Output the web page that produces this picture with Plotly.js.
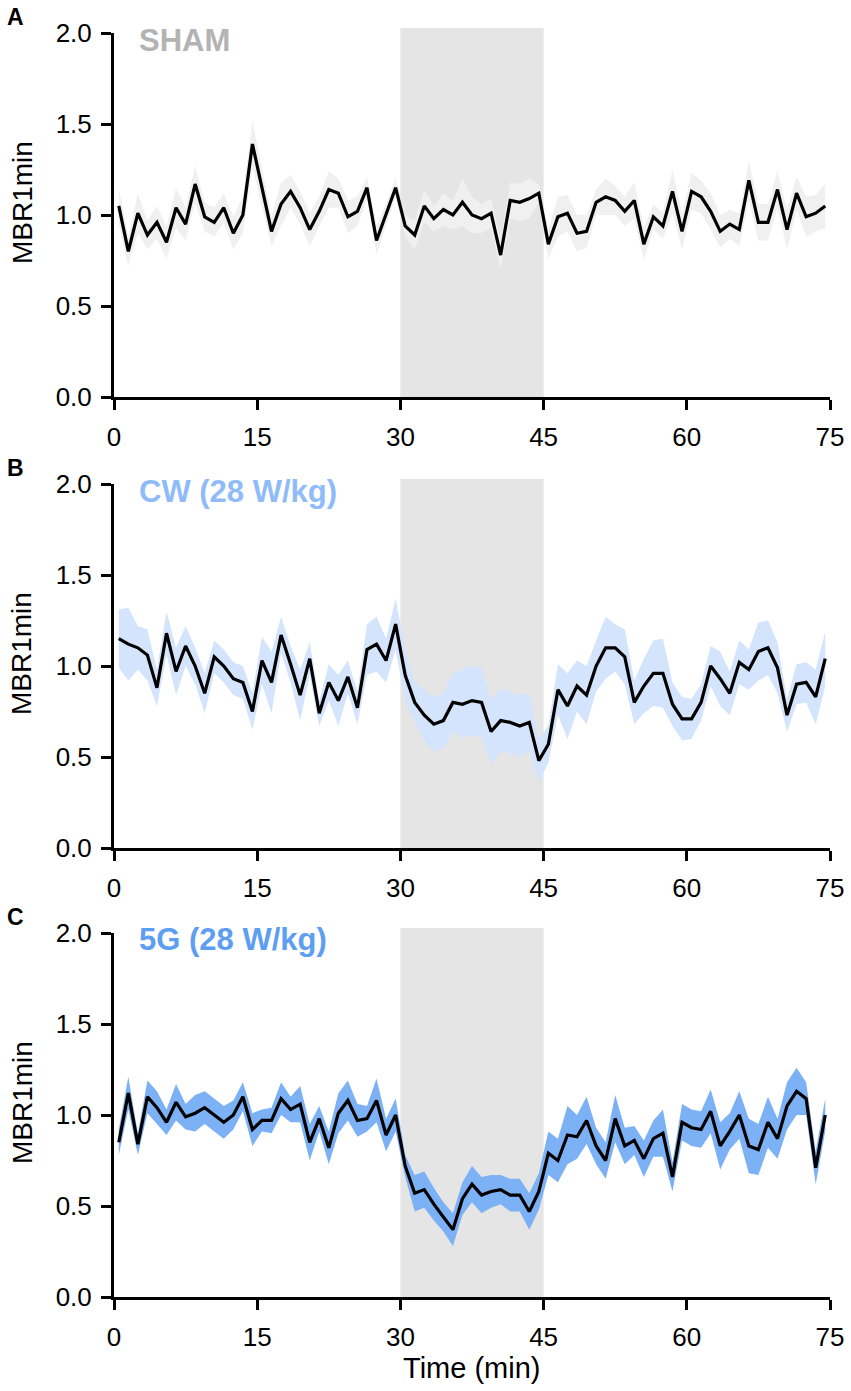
<!DOCTYPE html>
<html>
<head>
<meta charset="utf-8">
<script src="https://cdn.plot.ly/plotly-3.0.1.min.js"></script>
<style>
  html, body { margin: 0; padding: 0; background: #fff; }
  #chart { width: 851px; height: 1391px; }
</style>
</head>
<body>
<div id="chart"></div>
<script>
// time points, one per minute (bin centres)
var minutes = [
    0.5, 1.5, 2.5, 3.5, 4.5, 5.5, 6.5, 7.5, 8.5, 9.5,
    10.5, 11.5, 12.5, 13.5, 14.5, 15.5, 16.5, 17.5, 18.5, 19.5,
    20.5, 21.5, 22.5, 23.5, 24.5, 25.5, 26.5, 27.5, 28.5, 29.5,
    30.5, 31.5, 32.5, 33.5, 34.5, 35.5, 36.5, 37.5, 38.5, 39.5,
    40.5, 41.5, 42.5, 43.5, 44.5, 45.5, 46.5, 47.5, 48.5, 49.5,
    50.5, 51.5, 52.5, 53.5, 54.5, 55.5, 56.5, 57.5, 58.5, 59.5,
    60.5, 61.5, 62.5, 63.5, 64.5, 65.5, 66.5, 67.5, 68.5, 69.5,
    70.5, 71.5, 72.5, 73.5, 74.5
];

var shamMean = [
    1.05, 0.80, 1.01, 0.89, 0.96, 0.85, 1.04, 0.95, 1.17, 0.99,
    0.96, 1.04, 0.90, 1.00, 1.39, 1.15, 0.91, 1.06, 1.13, 1.04,
    0.92, 1.02, 1.14, 1.12, 0.99, 1.02, 1.15, 0.86, 1.00, 1.15,
    0.94, 0.89, 1.05, 0.98, 1.03, 1.00, 1.07, 1.00, 0.98, 1.01,
    0.78, 1.08, 1.07, 1.09, 1.12, 0.84, 0.99, 1.01, 0.90, 0.91,
    1.07, 1.10, 1.08, 1.02, 1.08, 0.84, 0.99, 0.94, 1.13, 0.91,
    1.13, 1.10, 1.02, 0.91, 0.95, 0.92, 1.19, 0.96, 0.96, 1.14,
    0.92, 1.12, 0.99, 1.01, 1.05
];
var shamSem = [
    0.10, 0.08, 0.11, 0.08, 0.09, 0.09, 0.11, 0.09, 0.10, 0.08,
    0.08, 0.08, 0.09, 0.10, 0.13, 0.10, 0.08, 0.12, 0.09, 0.09,
    0.09, 0.08, 0.10, 0.08, 0.09, 0.08, 0.06, 0.08, 0.06, 0.05,
    0.06, 0.08, 0.09, 0.07, 0.09, 0.08, 0.13, 0.10, 0.08, 0.08,
    0.08, 0.10, 0.10, 0.11, 0.05, 0.08, 0.11, 0.10, 0.10, 0.09,
    0.07, 0.10, 0.08, 0.08, 0.10, 0.09, 0.07, 0.07, 0.12, 0.10,
    0.10, 0.09, 0.10, 0.09, 0.08, 0.09, 0.11, 0.10, 0.10, 0.10,
    0.11, 0.09, 0.11, 0.10, 0.12
];

var cwMean = [
    1.15, 1.12, 1.10, 1.06, 0.88, 1.18, 0.97, 1.11, 1.00, 0.85,
    1.05, 1.00, 0.93, 0.91, 0.75, 1.03, 0.91, 1.17, 1.01, 0.84,
    1.04, 0.74, 0.91, 0.81, 0.94, 0.77, 1.09, 1.12, 1.03, 1.23,
    0.95, 0.80, 0.73, 0.68, 0.70, 0.80, 0.79, 0.81, 0.80, 0.64,
    0.70, 0.69, 0.67, 0.69, 0.48, 0.57, 0.87, 0.78, 0.89, 0.84,
    1.00, 1.10, 1.10, 1.05, 0.80, 0.89, 0.96, 0.96, 0.79, 0.71,
    0.71, 0.80, 1.00, 0.93, 0.85, 1.02, 0.98, 1.08, 1.10, 0.99,
    0.73, 0.90, 0.91, 0.83, 1.04
];
var cwSem = [
    0.16, 0.20, 0.12, 0.14, 0.10, 0.12, 0.13, 0.11, 0.10, 0.11,
    0.09, 0.09, 0.09, 0.09, 0.10, 0.13, 0.17, 0.10, 0.10, 0.14,
    0.09, 0.07, 0.10, 0.14, 0.09, 0.09, 0.14, 0.15, 0.12, 0.14,
    0.14, 0.11, 0.14, 0.15, 0.15, 0.16, 0.19, 0.19, 0.19, 0.18,
    0.17, 0.17, 0.17, 0.16, 0.12, 0.10, 0.14, 0.18, 0.14, 0.16,
    0.14, 0.17, 0.13, 0.15, 0.12, 0.15, 0.18, 0.19, 0.12, 0.12,
    0.11, 0.10, 0.11, 0.15, 0.12, 0.12, 0.11, 0.16, 0.15, 0.14,
    0.09, 0.11, 0.11, 0.15, 0.15
];

var fiveGMean = [
    0.85, 1.12, 0.84, 1.10, 1.04, 0.96, 1.07, 0.99, 1.01, 1.04,
    1.00, 0.96, 1.00, 1.10, 0.92, 0.97, 0.97, 1.09, 1.03, 1.06,
    0.85, 0.98, 0.82, 1.01, 1.08, 0.97, 0.98, 1.08, 0.89, 1.00,
    0.72, 0.57, 0.59, 0.51, 0.44, 0.37, 0.54, 0.62, 0.56, 0.58,
    0.59, 0.56, 0.56, 0.47, 0.58, 0.79, 0.75, 0.89, 0.88, 0.97,
    0.83, 0.75, 0.98, 0.83, 0.86, 0.76, 0.87, 0.90, 0.66, 0.96,
    0.93, 0.92, 1.02, 0.83, 0.91, 1.00, 0.83, 0.81, 0.96, 0.87,
    1.05, 1.13, 1.09, 0.71, 1.00
];
var fiveGSem = [
    0.07, 0.09, 0.06, 0.09, 0.09, 0.07, 0.10, 0.07, 0.10, 0.09,
    0.09, 0.09, 0.08, 0.08, 0.09, 0.06, 0.07, 0.09, 0.07, 0.10,
    0.10, 0.07, 0.09, 0.11, 0.11, 0.09, 0.07, 0.12, 0.09, 0.09,
    0.06, 0.10, 0.10, 0.09, 0.08, 0.09, 0.09, 0.10, 0.10, 0.09,
    0.08, 0.09, 0.09, 0.10, 0.10, 0.12, 0.12, 0.16, 0.12, 0.13,
    0.10, 0.10, 0.13, 0.10, 0.08, 0.10, 0.10, 0.13, 0.08, 0.10,
    0.10, 0.10, 0.12, 0.13, 0.10, 0.13, 0.15, 0.14, 0.14, 0.11,
    0.13, 0.13, 0.09, 0.09, 0.09
];

var xTicks = [0, 15, 30, 45, 60, 75];
var yTicks = [0, 0.5, 1.0, 1.5, 2.0];
var exposureWindow = [30, 45];

var panels = [
    {letter: 'A', label: 'SHAM', labelColor: '#b3b3b3', band: '#f0f0f0', mean: shamMean, sem: shamSem, top: 33, bottom: 397},
    {letter: 'B', label: 'CW (28 W/kg)', labelColor: '#8fbcf8', band: '#d3e4fc', mean: cwMean, sem: cwSem, top: 484, bottom: 848},
    {letter: 'C', label: '5G (28 W/kg)', labelColor: '#5d9ef2', band: '#7cb1f6', mean: fiveGMean, sem: fiveGSem, top: 933, bottom: 1297},
];

var W = 851, H = 1391;
var mL = 114, mR = 21, mT = 33, mB = 94;
var plotW = W - mL - mR, plotH = H - mT - mB;
var FONT = 'Liberation Sans, Arial, Helvetica, sans-serif';

function px(x) { return (x - mL) / plotW; }
function py(y) { return (H - mB - y) / plotH; }

var traces = [];
var shapes = [];
var annotations = [];
var layout = {
    width: W,
    height: H,
    margin: {l: mL, r: mR, t: mT, b: mB, pad: 0},
    paper_bgcolor: '#ffffff',
    plot_bgcolor: 'rgba(0,0,0,0)',
    showlegend: false,
    hovermode: false,
    font: {family: FONT, color: '#000000'},
};

panels.forEach(function (p, i) {
    var n = i === 0 ? '' : String(i + 1);
    var xa = 'x' + n, ya = 'y' + n;
    var lower = p.mean.map(function (v, k) { return v - p.sem[k]; });
    var upper = p.mean.map(function (v, k) { return v + p.sem[k]; });

    traces.push({
        x: minutes, y: lower, xaxis: xa, yaxis: ya,
        type: 'scatter', mode: 'lines',
        line: {width: 0, color: p.band},
    });
    traces.push({
        x: minutes, y: upper, xaxis: xa, yaxis: ya,
        type: 'scatter', mode: 'lines', fill: 'tonexty',
        fillcolor: p.band, line: {width: 0, color: p.band},
    });
    traces.push({
        x: minutes, y: p.mean, xaxis: xa, yaxis: ya,
        type: 'scatter', mode: 'lines',
        line: {width: 3.2, color: '#000000'},
    });

    var dom = [py(p.bottom), py(p.top)];
    layout['xaxis' + n] = {
        domain: [0, 1],
        anchor: ya,
        range: [0, 75],
        tickmode: 'array',
        tickvals: xTicks,
        ticks: 'outside',
        ticklen: 10,
        tickwidth: 3,
        tickcolor: '#000000',
        showline: true,
        linewidth: 3,
        linecolor: '#000000',
        showgrid: false,
        zeroline: false,
        ticklabelstandoff: 5,
        tickfont: {family: FONT, size: 26, color: '#000000'},
    };
    layout['yaxis' + n] = {
        domain: dom,
        anchor: xa,
        range: [0, 2],
        tickmode: 'array',
        tickvals: yTicks,
        tickformat: '.1f',
        ticks: 'outside',
        ticklen: 10,
        tickwidth: 3,
        tickcolor: '#000000',
        showline: true,
        linewidth: 3,
        linecolor: '#000000',
        showgrid: false,
        zeroline: false,
        ticklabelstandoff: 4,
        tickfont: {family: FONT, size: 26, color: '#000000'},
    };

    // exposure window
    shapes.push({
        type: 'rect', layer: 'below',
        xref: xa, yref: 'paper',
        x0: exposureWindow[0], x1: exposureWindow[1],
        y0: dom[0], y1: dom[1] + 5 / plotH,
        fillcolor: '#e5e5e5', line: {width: 0},
    });

    annotations.push({
        xref: 'paper', yref: 'paper', x: px(15), y: py(p.top - 16),
        xanchor: 'center', yanchor: 'middle', showarrow: false,
        text: '<b>' + p.letter + '</b>',
        font: {family: FONT, size: 23, color: '#000000'},
    });
    annotations.push({
        xref: 'paper', yref: 'paper', x: px(137), y: py(p.top + 7),
        xanchor: 'left', yanchor: 'middle', showarrow: false,
        text: '<b>' + p.label + '</b>',
        font: {family: FONT, size: 31, color: p.labelColor},
    });
    annotations.push({
        xref: 'paper', yref: 'paper', x: px(22), y: py((p.top + p.bottom) / 2 - 12),
        xanchor: 'center', yanchor: 'middle', showarrow: false, textangle: -90,
        text: 'MBR1min',
        font: {family: FONT, size: 28, color: '#000000'},
    });
});

annotations.push({
    xref: 'paper', yref: 'paper', x: px(471), y: py(1368),
    xanchor: 'center', yanchor: 'middle', showarrow: false,
    text: 'Time (min)',
    font: {family: FONT, size: 29, color: '#000000'},
});

layout.shapes = shapes;
layout.annotations = annotations;

Plotly.newPlot('chart', traces, layout, {staticPlot: true, displayModeBar: false});
</script>
</body>
</html>
